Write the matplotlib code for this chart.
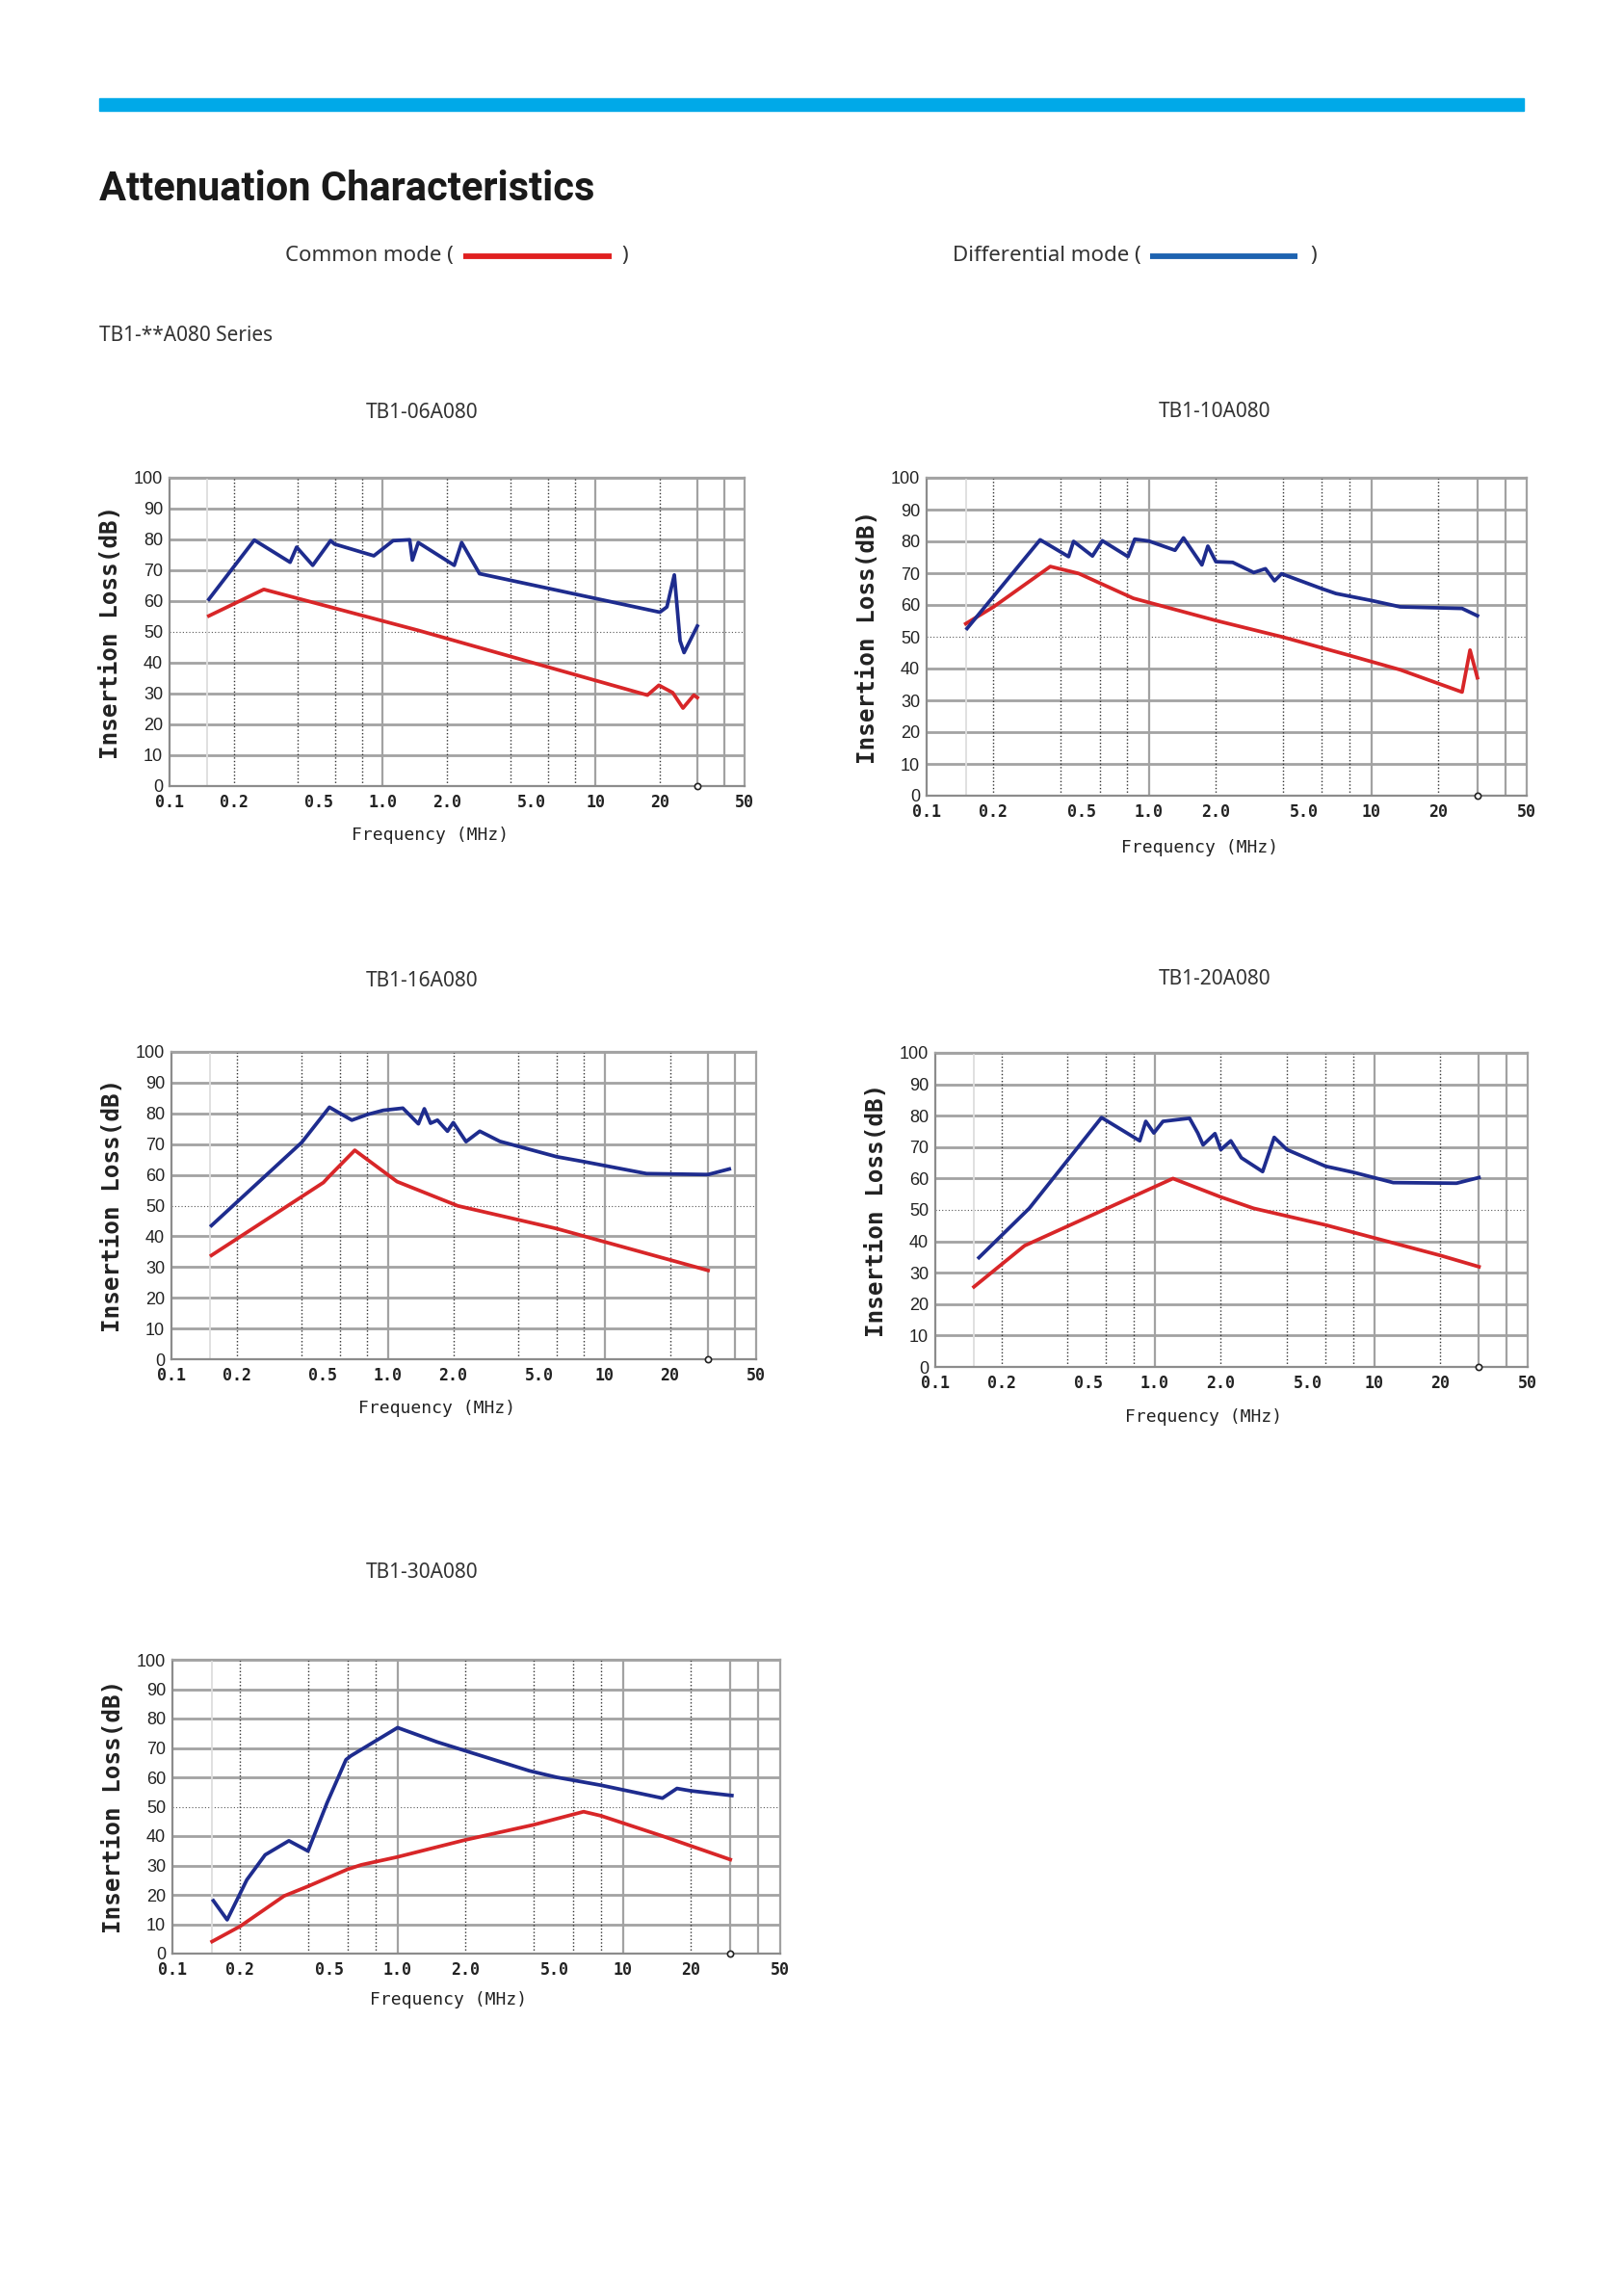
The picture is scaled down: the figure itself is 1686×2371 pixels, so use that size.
import matplotlib
matplotlib.use("Agg")
import matplotlib.pyplot as plt
from matplotlib.lines import Line2D
from matplotlib.patches import Rectangle
from matplotlib.ticker import NullLocator

W, H = 1686, 2371

# ---- values (frequency MHz, insertion loss dB) ----
titles = ["TB1-06A080", "TB1-10A080", "TB1-16A080", "TB1-20A080", "TB1-30A080"]

f06_dm = [0.153, 0.25, 0.368, 0.395, 0.47, 0.57, 0.595, 0.91, 1.12, 1.34, 1.38, 1.47,
          2.17, 2.35, 2.85, 20.0, 21.6, 23.4, 24.9, 26.0, 30.0]
l06_dm = [60.6, 79.8, 72.6, 77.5, 71.6, 79.6, 78.5, 74.7, 79.6, 79.9, 73.3, 79.0,
          71.6, 79.0, 68.9, 56.4, 58.1, 68.5, 47.1, 43.3, 51.9]
f06_cm = [0.153, 0.277, 1.47, 17.5, 19.8, 23.0, 25.7, 28.9, 30.0]
l06_cm = [55.2, 63.8, 50.5, 29.5, 32.7, 30.3, 25.3, 29.5, 28.7]

f10_dm = [0.152, 0.324, 0.435, 0.458, 0.557, 0.617, 0.805, 0.863, 1.0, 1.31, 1.43, 1.73,
          1.84, 2.0, 2.38, 2.96, 3.34, 3.67, 3.95, 6.0, 6.93, 10.0, 13.5, 25.6, 30.0]
l10_dm = [52.6, 80.5, 75.2, 80.0, 75.4, 80.2, 75.2, 80.7, 80.1, 77.2, 81.1, 72.6,
          78.5, 73.6, 73.4, 70.2, 71.4, 67.6, 69.8, 65.1, 63.6, 61.4, 59.4, 58.9, 56.6]
f10_cm = [0.15, 0.2, 0.36, 0.483, 0.85, 2.0, 4.0, 8.0, 13.5, 25.6, 27.8, 30.0]
l10_cm = [54.1, 59.4, 72.1, 69.9, 62.1, 55.1, 49.9, 44.1, 39.6, 32.6, 45.8, 37.1]

f16_dm = [0.153, 0.4, 0.536, 0.68, 0.8, 0.95, 1.17, 1.38, 1.47, 1.57, 1.69, 1.88, 2.0,
          2.29, 2.65, 3.28, 6.0, 8.0, 15.6, 30.0, 37.6]
l16_dm = [43.5, 70.6, 82.0, 77.8, 79.6, 81.0, 81.7, 76.6, 81.5, 76.8, 77.8, 74.2, 77.0,
          70.8, 74.2, 70.9, 65.9, 64.3, 60.4, 60.1, 61.9]
f16_cm = [0.153, 0.503, 0.536, 0.702, 1.10, 2.1, 6.0, 30.0]
l16_cm = [33.8, 57.5, 59.6, 68.0, 57.8, 49.9, 42.5, 28.9]

f20_dm = [0.158, 0.268, 0.572, 0.854, 0.91, 0.99, 1.09, 1.44, 1.57, 1.66, 1.88, 2.0,
          2.22, 2.48, 3.10, 3.5, 4.0, 6.0, 8.0, 12.2, 23.7, 30.0]
l20_dm = [34.8, 50.5, 79.4, 72.0, 78.2, 74.5, 78.2, 79.2, 74.5, 70.7, 74.3, 69.2,
          72.0, 66.6, 62.2, 73.1, 69.2, 63.9, 62.0, 58.7, 58.5, 60.3]
f20_cm = [0.15, 0.255, 1.21, 2.0, 2.82, 6.0, 20.0, 30.0]
l20_cm = [25.5, 38.6, 60.0, 54.1, 50.5, 45.2, 35.5, 31.9]

f30_dm = [0.152, 0.175, 0.214, 0.258, 0.329, 0.4, 0.486, 0.59, 0.62, 1.0, 1.5, 3.85,
          5.09, 8.0, 15.0, 17.4, 20.0, 30.5]
l30_dm = [18.0, 11.5, 25.1, 33.6, 38.4, 34.9, 51.3, 66.0, 67.3, 76.9, 72.0, 62.2,
          60.0, 57.3, 52.9, 56.2, 55.4, 53.8]
f30_cm = [0.15, 0.2, 0.313, 0.4, 0.6, 0.69, 1.0, 2.0, 4.0, 6.7, 8.0, 15.0, 30.0]
l30_cm = [4.1, 9.3, 19.6, 22.9, 28.7, 30.2, 32.9, 38.7, 43.8, 48.3, 46.9, 40.0, 32.0]

x_ticks = [0.1, 0.2, 0.5, 1.0, 2.0, 5.0, 10, 20, 50]
x_tick_labels = ["0.1", "0.2", "0.5", "1.0", "2.0", "5.0", "10", "20", "50"]
y_ticks = list(range(0, 101, 10))
dotted_x = [0.2, 0.4, 0.6, 0.8, 2, 4, 6, 8, 20]
solid_x = [1, 10, 30, 40]

series = [
    (f06_dm, l06_dm, f06_cm, l06_cm),
    (f10_dm, l10_dm, f10_cm, l10_cm),
    (f16_dm, l16_dm, f16_cm, l16_cm),
    (f20_dm, l20_dm, f20_cm, l20_cm),
    (f30_dm, l30_dm, f30_cm, l30_cm),
]

# plot boxes in page pixels: left, top, right, bottom
boxes = [(176, 496, 773, 816), (962, 496, 1585, 826), (178, 1092, 785, 1411),
         (971, 1093, 1586, 1419), (179, 1723, 810, 2028)]
title_pos = [(438, 429), (1261, 428), (438, 1019), (1261, 1017), (438, 1633)]
xlabel_pos = [(447, 867), (1246, 880), (454, 1462), (1250, 1471), (466, 2076)]

RED = "#d82628"
BLUE = "#1e2c8e"
GRID = "#a2a2a2"
TXT = "#222222"
PAGE_FONT = ["Noto Sans", "DejaVu Sans"]
TITLE_FONT = ["Roboto", "Lato", "DejaVu Sans"]
MONO = "DejaVu Sans Mono"


def fx(px):
    return px / W


def fy(py):
    return 1 - py / H


fig = plt.figure(figsize=(W / 100, H / 100), dpi=100)
fig.patch.set_facecolor("white")

# header
fig.patches.append(Rectangle((fx(103), fy(115)), fx(1582) - fx(103), fy(102) - fy(115),
                             transform=fig.transFigure, color="#00a9e8", zorder=1))
fig.text(fx(103), fy(196), "Attenuation Characteristics", family=TITLE_FONT,
         weight="bold", size=30, color="#1a1a1a", va="center", ha="left")

fig.text(fx(296), fy(265), "Common mode (", family=PAGE_FONT, weight="light",
         size=16, color="#333333", va="center", ha="left")
fig.lines.append(Line2D([fx(481), fx(635)], [fy(266), fy(266)], transform=fig.transFigure,
                        color="#e02020", lw=4.2, solid_capstyle="butt"))
fig.text(fx(645), fy(265), ")", family=PAGE_FONT, weight="light", size=16,
         color="#333333", va="center", ha="left")

fig.text(fx(989), fy(265), "Differential mode (", family=PAGE_FONT, weight="light",
         size=16, color="#333333", va="center", ha="left")
fig.lines.append(Line2D([fx(1194), fx(1347)], [fy(266), fy(266)], transform=fig.transFigure,
                        color="#1e63b0", lw=4.2, solid_capstyle="butt"))
fig.text(fx(1360), fy(265), ")", family=PAGE_FONT, weight="light", size=16,
         color="#333333", va="center", ha="left")

fig.text(fx(103), fy(348), "TB1-**A080 Series", family=PAGE_FONT, weight="light",
         size=15, color="#333333", va="center", ha="left")

for i, (f_dm, l_dm, f_cm, l_cm) in enumerate(series):
    left, top, right, bottom = boxes[i]
    ax = fig.add_axes([fx(left), fy(bottom), fx(right) - fx(left), fy(top) - fy(bottom)])
    ax.set_xscale("log")
    ax.set_xlim(0.1, 50)
    ax.set_ylim(0, 100)

    # chart grid
    for y in y_ticks[1:]:
        if y == 50:
            ax.axhline(y, color="#555555", lw=0.8, ls=(0, (1, 2)), zorder=1)
        else:
            ax.axhline(y, color=GRID, lw=2.0, zorder=1)
    for x in dotted_x:
        ax.axvline(x, color="#333333", lw=1.0, ls=(0, (1, 1.6)), zorder=1)
    for x in solid_x:
        ax.axvline(x, color=GRID, lw=1.6, zorder=1)
    ax.axvline(0.15, color="#dddddd", lw=1.3, zorder=1)

    ax.plot(f_cm, l_cm, color=RED, lw=2.7, zorder=3)
    ax.plot(f_dm, l_dm, color=BLUE, lw=2.7, zorder=3)
    ax.plot([30], [0], marker="o", ms=4.5, mfc="white", mec="#222222", mew=1.2,
            clip_on=False, zorder=5)

    ax.set_xticks(x_ticks)
    ax.set_xticklabels(x_tick_labels, family=MONO, weight="bold", size=12, color=TXT)
    ax.xaxis.set_minor_locator(NullLocator())
    ax.set_yticks(y_ticks)
    ax.set_yticklabels([str(v) for v in y_ticks], family="Liberation Sans", size=13,
                       color=TXT)
    ax.tick_params(axis="x", length=0, pad=6)
    ax.tick_params(axis="y", length=0, pad=5)
    for side in ["top", "right"]:
        ax.spines[side].set_color(GRID)
        ax.spines[side].set_linewidth(1.6)
    for side in ["left", "bottom"]:
        ax.spines[side].set_color("#8c8c8c")
        ax.spines[side].set_linewidth(1.6)

    ax.set_ylabel("Insertion Loss(dB)", family=MONO, weight="bold", size=17.5, color=TXT)
    ax.yaxis.set_label_coords(-49 / (right - left), 0.5)

    xl, yl = xlabel_pos[i]
    fig.text(fx(xl), fy(yl), "Frequency (MHz)", family=MONO, size=13, color=TXT,
             ha="center", va="center")
    tx, ty = title_pos[i]
    fig.text(fx(tx), fy(ty), titles[i], family=PAGE_FONT, weight="light", size=15,
             color="#333333", ha="center", va="center")

fig.savefig("out.png", dpi=100, facecolor="white")
